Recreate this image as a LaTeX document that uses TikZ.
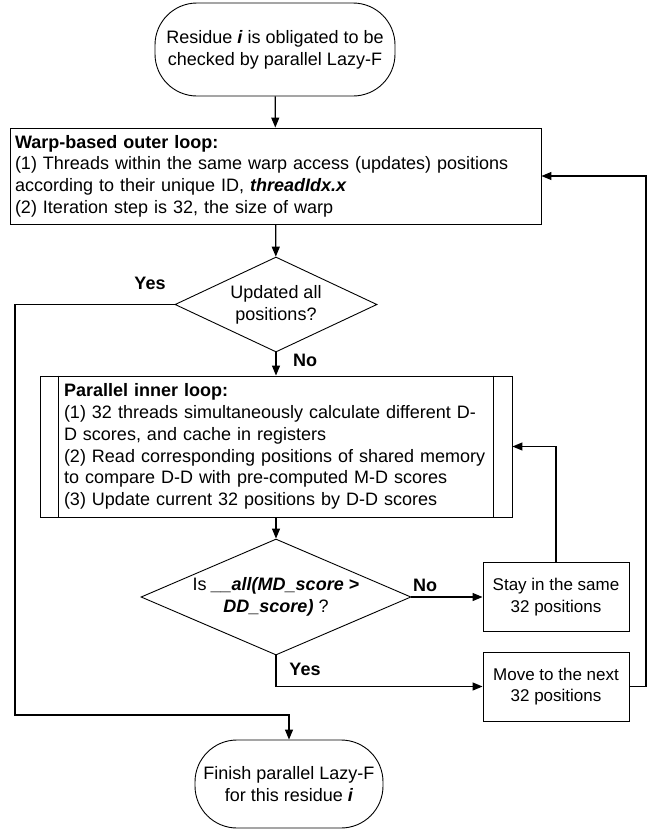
\documentclass[tikz,border=0pt]{standalone}
\usepackage{fontspec}
\setmainfont{Liberation Sans}
\usetikzlibrary{arrows.meta, shapes.geometric}

\begin{document}
\begin{tikzpicture}[x=1pt, y=-1pt,
    font=\fontsize{18}{21.7}\selectfont,
    terminal/.style={draw, line width=0.9pt, rounded corners=42pt, align=center, inner sep=0pt},
    procbox/.style={draw, line width=0.9pt, align=left, inner xsep=5pt, inner ysep=0pt},
    smallbox/.style={draw, line width=0.9pt, align=center, inner sep=0pt,
        minimum width=146pt, minimum height=69pt, font=\fontsize{17}{21.7}\selectfont},
    decision/.style={draw, diamond, line width=0.9pt, align=center, inner sep=0pt, aspect=2.3},
    flow/.style={-{Triangle[length=10pt, width=8pt]}, line width=1.2pt},
    answer/.style={font=\fontsize{18}{21.7}\selectfont\bfseries}]

    \useasboundingbox (0,0) rectangle (649,830);

    % Start and end
    \node[terminal, minimum width=240pt, minimum height=93pt] (begin) at (275,49.5)
        {Residue \textbf{\textit{i}} is obligated to be\\checked by parallel Lazy-F};
    \node[terminal, minimum width=188pt, minimum height=88pt] (finish) at (289,784)
        {Finish parallel Lazy-F\\for this residue \textbf{\textit{i}}};

    % Outer loop
    \node[procbox, text width=521pt, minimum height=96pt] (outer) at (275.5,176)
        {\textbf{Warp-based outer loop:}\\
         (1) Threads within the same warp access (updates) positions\\
         according to their unique ID, \textbf{\textit{threadIdx.x}}\\
         (2) Iteration step is 32, the size of warp};
    \node[decision, minimum width=202pt, minimum height=95pt] (allpos) at (276,304.5)
        {Updated all\\positions?};

    % Inner loop
    \node[procbox, text width=424pt, inner xsep=24pt, minimum height=141pt] (inner) at (276,446.5)
        {\textbf{Parallel inner loop:}\\
         (1) 32 threads simultaneously calculate different D-\\
         D scores, and cache in registers\\
         (2) Read corresponding positions of shared memory\\
         to compare D-D with pre-computed M-D scores\\
         (3) Update current 32 positions by D-D scores};
    \draw[line width=0.9pt] ([xshift=19pt]inner.north west) -- ([xshift=19pt]inner.south west);
    \draw[line width=0.9pt] ([xshift=-19pt]inner.north east) -- ([xshift=-19pt]inner.south east);
    \node[decision, minimum width=270pt, minimum height=116pt] (check) at (276,597)
        {Is \textbf{\textit{\_\_all(MD\_score >}}\\\textbf{\textit{DD\_score)}} ?};

    \node[smallbox] (stay) at (556,597) {Stay in the same\\32 positions};
    \node[smallbox] (move) at (556,686.5) {Move to the next\\32 positions};

    % Labels
    \node[answer] (yesall) at (150,283) {Yes};
    \node[answer] (noall) at (305,360) {No};
    \node[answer] (nocheck) at (425,585) {No};
    \node[answer] (yescheck) at (305,669) {Yes};

    % Connectors
    \coordinate (leftdown) at (15,715);
    \coordinate (loopright) at (646,686.5);
    \draw[flow] (begin) -- (outer);
    \draw[flow] (outer) -- (allpos);
    \draw[flow] (allpos) -- (inner);
    \draw[flow] (inner) -- (check);
    \draw[flow] (check.east) -- (stay.west);
    \draw[flow] (check.south) |- (move.west);
    \draw[flow] (stay.north) |- (inner.east);
    \draw[flow] (move.east) -- (loopright) |- (outer.east);
    \draw[flow] (allpos.west) -| (leftdown) -| (finish.north);
\end{tikzpicture}
\end{document}
